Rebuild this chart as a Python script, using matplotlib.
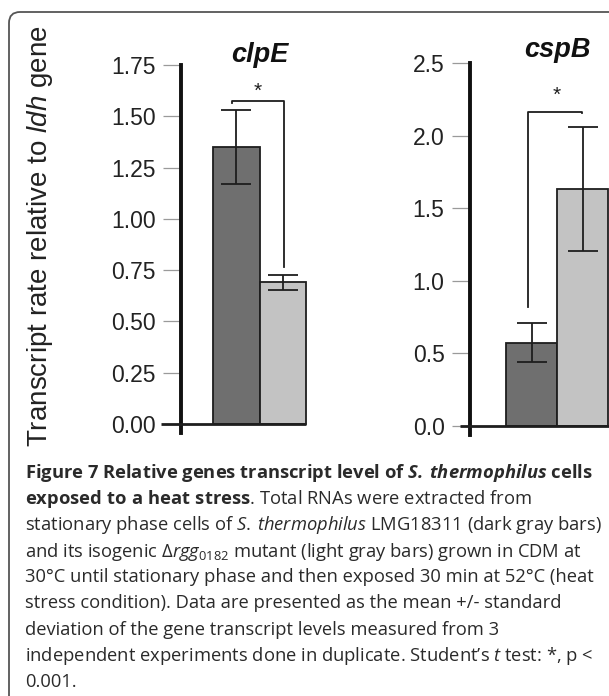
import matplotlib
matplotlib.use("Agg")
import matplotlib.pyplot as plt
from matplotlib.patches import FancyBboxPatch
from matplotlib.transforms import IdentityTransform

# ------------------------------------------------------------------
# data
genes = ['clpE', 'cspB']
wt_mean = [1.35, 0.573]        # LMG18311 (dark gray)
wt_err = [0.18, 0.136]
mut_mean = [0.69, 1.634]       # rgg0182 mutant (light gray)
mut_err = [0.035, 0.426]
ylims = [(-0.045, 1.75), (-0.065, 2.5)]
yticks = [[0, 0.25, 0.5, 0.75, 1.0, 1.25, 1.5, 1.75], [0, 0.5, 1.0, 1.5, 2.0, 2.5]]
ytick_fmt = ['%.2f', '%.1f']
# significance brackets (x, y) and star position
brackets = [([0.90, 0.90, 2.027, 2.027], [1.563, 1.576, 1.576, 0.767]),
            ([0.937, 0.937, 1.998, 1.998], [0.821, 2.167, 2.167, 2.160])]
stars = [(1.47, 1.62), (1.50, 2.28)]

caption = [
    r"Figure 7 Relative genes transcript level of $\mathbfit{S.\:thermophilus}$ cells",
    r"$\mathbf{exposed\ to\ a\ heat\ stress}$. Total RNAs were extracted from",
    r"stationary phase cells of $\mathit{S.\:thermophilus}$ LMG18311 (dark gray bars)",
    r"and its isogenic $\mathit{\Delta rgg}_{\mathit{0182}}$ mutant (light gray bars) grown in CDM at",
    "30°C until stationary phase and then exposed 30 min at 52°C (heat",
    "stress condition). Data are presented as the mean +/- standard",
    "deviation of the gene transcript levels measured from 3",
    r"independent experiments done in duplicate. Student’s $\mathit{t}$ test: *, p <",
    "0.001.",
]
# ------------------------------------------------------------------

plt.rcParams['mathtext.fontset'] = 'custom'
plt.rcParams['mathtext.rm'] = 'Open Sans'
plt.rcParams['mathtext.it'] = 'Open Sans:italic'
plt.rcParams['mathtext.bf'] = 'Open Sans:bold'
plt.rcParams['mathtext.bfit'] = 'Open Sans:bold:italic'
plt.rcParams['mathtext.sf'] = 'Liberation Sans:italic'

W, H = 609, 696
fig = plt.figure(figsize=(W / 100, H / 100), dpi=100)

dark = '#6f6f6f'
light = '#c3c3c3'
ink = '#1e1e1e'

# axes boxes in pixels: left, right, top(px of ymax), bottom(px of ymin)
boxes = [(181, 340, 65, 433.2), (469.5, 640, 63.5, 435.1)]
xlims = [(-0.188, 3.231), (-0.216, 3.127)]
base_left = [0.43, 0.19]

for i, g in enumerate(genes):
    l, r, t, b = boxes[i]
    ax = fig.add_axes([l / W, 1 - b / H, (r - l) / W, (b - t) / H])
    ax.bar([1, 2], [wt_mean[i], mut_mean[i]], width=1.0,
           color=[dark, light], edgecolor=ink, linewidth=1.3,
           yerr=[wt_err[i], mut_err[i]], capsize=11,
           error_kw=dict(elinewidth=1.3, capthick=1.3, ecolor=ink))
    ax.set_xlim(*xlims[i])
    ax.set_ylim(*ylims[i])
    x0 = xlims[i][0]
    ax.plot([x0 - base_left[i], 3.2 if i else 2.5], [0, 0], color=ink, lw=2.0,
            clip_on=False, zorder=5, solid_capstyle='butt')
    for s in ['top', 'right', 'bottom']:
        ax.spines[s].set_visible(False)
    ax.spines['left'].set_linewidth(2.8)
    ax.spines['left'].set_color('#111111')
    ax.set_xticks([])
    ax.set_yticks(yticks[i])
    ax.set_yticklabels([ytick_fmt[i] % v for v in yticks[i]])
    ax.tick_params(axis='y', length=13, width=0.9, color='#9a9a9a', pad=5,
                   labelsize=16.5, labelcolor='#222222')
    for lab in ax.get_yticklabels():
        lab.set_family('Liberation Sans')
    ax.patch.set_visible(False)

    bx, by = brackets[i]
    ax.plot(bx, by, color=ink, lw=1.3, clip_on=False)
    ax.text(stars[i][0], stars[i][1], '*', ha='center', va='center',
            fontsize=15, family='Liberation Sans', color=ink)
    tx = [(260, 62.5), (557, 57)][i]
    fig.text(tx[0] / W, 1 - tx[1] / H, g, ha='center', va='baseline',
             fontsize=19.5, fontweight='bold', fontstyle='italic',
             family='Liberation Sans', color='#111111')

# y label
fig.text(40 / W, 1 - 236 / H, r"Transcript rate relative to $\mathsf{ldh}$ gene",
         rotation=90, ha='center', va='center', fontsize=20,
         family='Liberation Sans', color='#222222')

# caption
line_y = [473, 499, 525, 552, 577, 603, 630, 656, 682]
for k, line in enumerate(caption):
    fig.text(25 / W, 1 - line_y[k] / H, line, ha='left', va='center',
             fontsize=13.2, family='Open Sans', color='#2a2a2a',
             fontweight='bold' if k == 0 else 'normal')

# rounded frame, cut by the right and bottom edge
frame = FancyBboxPatch((9, -40), 700, H - 12 + 40,
                       boxstyle='round,pad=0,rounding_size=11',
                       transform=IdentityTransform(), fill=False,
                       edgecolor='#555555', linewidth=1.3)
fig.patches.append(frame)

fig.savefig('out.png', dpi=100)
